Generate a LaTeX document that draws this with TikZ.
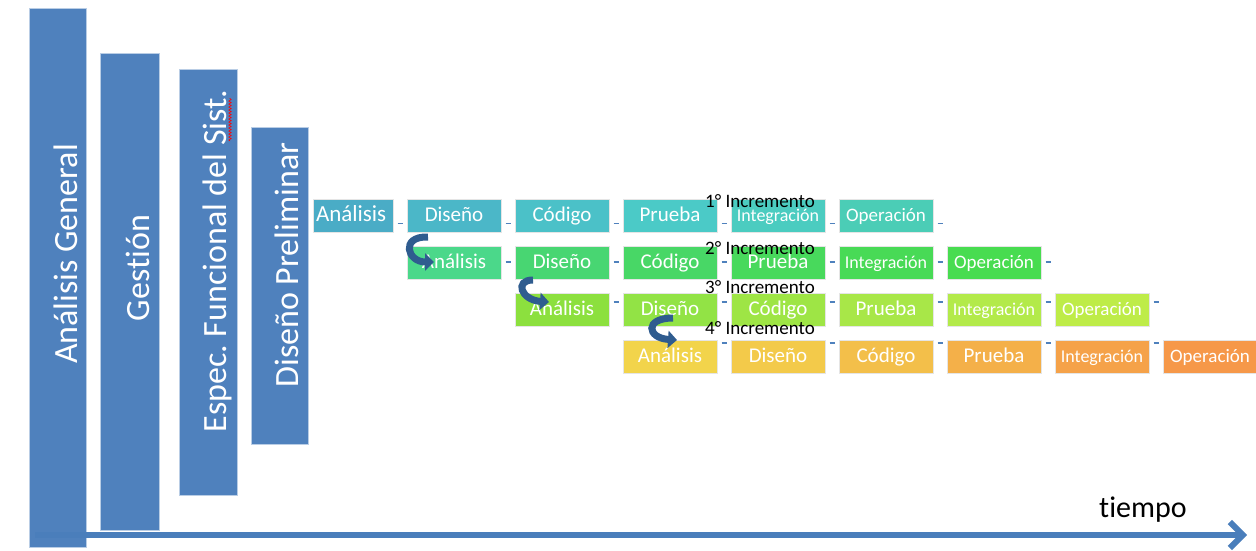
\documentclass[tikz,border=0pt]{standalone}
\usepackage{fontspec}
\setmainfont{Carlito}[Ligatures=NoCommon]
\usetikzlibrary{positioning,calc,arrows.meta,decorations.pathmorphing}

\definecolor{barblue}{HTML}{4F81BD}
\definecolor{lineblue}{HTML}{4A7EBB}
\definecolor{curveblue}{HTML}{2F5C8F}
% fila 1
\definecolor{ra1}{HTML}{4AACC6}\definecolor{rd1}{HTML}{4BB7C8}\definecolor{rc1}{HTML}{4BC1C8}
\definecolor{rp1}{HTML}{4BCAC7}\definecolor{ri1}{HTML}{4BCCC0}\definecolor{ro1}{HTML}{4BCDB6}
% fila 2
\definecolor{ra2}{HTML}{4BD88A}\definecolor{rd2}{HTML}{48D672}\definecolor{rc2}{HTML}{48D766}
\definecolor{rp2}{HTML}{48D95C}\definecolor{ri2}{HTML}{48DA56}\definecolor{ro2}{HTML}{48DC50}
% fila 3
\definecolor{ra3}{HTML}{8CE03E}\definecolor{rd3}{HTML}{92E345}\definecolor{rc3}{HTML}{9EE545}
\definecolor{rp3}{HTML}{A8E748}\definecolor{ri3}{HTML}{B3EA4A}\definecolor{ro3}{HTML}{BEEC48}
% fila 4
\definecolor{ra4}{HTML}{F2D44B}\definecolor{rd4}{HTML}{F3CA4A}\definecolor{rc4}{HTML}{F3BF4A}
\definecolor{rp4}{HTML}{F4B049}\definecolor{ri4}{HTML}{F5A249}\definecolor{ro4}{HTML}{F69849}

\begin{document}
\begin{tikzpicture}[x=1pt, y=-1pt,
    bar/.style = {rectangle, draw=white!60!barblue, fill=barblue, line width=0.8pt, outer sep=0pt, inner sep=0pt},
    bartext/.style = {rotate=90, anchor=base, inner sep=0pt, text=white, font=\fontsize{34}{34}\selectfont},
    phase/.style = {rectangle, draw=white!80!gray, line width=0.8pt, outer sep=0pt, inner sep=0pt, minimum width=94pt, minimum height=33pt, text height=15pt, text depth=4pt, text=white, font=\fontsize{21}{21}\selectfont},
    integ/.style = {font=\fontsize{18}{18}\selectfont},
    oper/.style = {font=\fontsize{19}{19}\selectfont},
    inc/.style = {inner sep=0pt, anchor=base west, font=\fontsize{19}{19}\selectfont},
    gapdash/.style = {draw=barblue, line width=1.8pt},
    back/.style = {draw=curveblue, line width=7pt, -{Triangle[length=9pt, width=17pt]}}]
  \useasboundingbox (0,0) rectangle (1256,550);

  % barras verticales
  \node[bar, minimum width=57pt, minimum height=539pt] (ag) at (57.5,277.5) {};
  \node[bar, minimum width=59pt, minimum height=477pt] (ges) at (129.5,291.5) {};
  \node[bar, minimum width=58pt, minimum height=426pt] (efs) at (208,282) {};
  \node[bar, minimum width=57pt, minimum height=317pt] (dp) at (279.5,285.5) {};
  \node[bartext] (ag-t) at (77,254) {Análisis General};
  \node[bartext] (ges-t) at (149,268) {Gestión};
  \node[bartext] (efs-t) at (226,261) {Espec.\ Funcional del Sist.};
  \node[bartext] (dp-t) at (298,265) {Diseño Preliminar};
  \draw[red, line width=0.6pt, decorate, decoration={snake, amplitude=1.2pt, segment length=3pt}] (230,141) -- (230,98);

  % eje del tiempo
  \coordinate (t0) at (35,535);
  \coordinate (t1) at (1247,535);
  \draw[lineblue, line width=6pt, -{Straight Barb[length=13pt, width=26pt]}] (t0) -- (t1);
  \node[inc, font=\fontsize{30}{30}\selectfont] (tiempo) at (1099,517) {tiempo};

  % 1er incremento
  \node[phase, fill=ra1, anchor=north west, minimum width=80pt, text width=74pt, align=left, font=\fontsize{23}{23}\selectfont] (a1) at (313,199) {Análisis};
  \node[phase, fill=rd1, right=14pt of a1] (d1) {Diseño};
  \node[phase, fill=rc1, right=14pt of d1] (c1) {Código};
  \node[phase, fill=rp1, right=14pt of c1] (p1) {Prueba};
  \node[phase, integ, fill=ri1, right=14pt of p1] (i1) {Integración};
  \node[phase, oper, fill=ro1, right=14pt of i1] (o1) {Operación};

  % 2do incremento
  \node[phase, fill=ra2, below=14pt of d1] (a2) {Análisis};
  \node[phase, fill=rd2, right=14pt of a2] (d2) {Diseño};
  \node[phase, fill=rc2, right=14pt of d2] (c2) {Código};
  \node[phase, fill=rp2, right=14pt of c2] (p2) {Prueba};
  \node[phase, integ, fill=ri2, right=14pt of p2] (i2) {Integración};
  \node[phase, oper, fill=ro2, right=14pt of i2] (o2) {Operación};

  % 3er incremento
  \node[phase, fill=ra3, below=14pt of d2] (a3) {Análisis};
  \node[phase, fill=rd3, right=14pt of a3] (d3) {Diseño};
  \node[phase, fill=rc3, right=14pt of d3] (c3) {Código};
  \node[phase, fill=rp3, right=14pt of c3] (p3) {Prueba};
  \node[phase, integ, fill=ri3, right=14pt of p3] (i3) {Integración};
  \node[phase, oper, fill=ro3, right=14pt of i3] (o3) {Operación};

  % 4to incremento
  \node[phase, fill=ra4, below=14pt of d3] (a4) {Análisis};
  \node[phase, fill=rd4, right=14pt of a4] (d4) {Diseño};
  \node[phase, fill=rc4, right=14pt of d4] (c4) {Código};
  \node[phase, fill=rp4, right=14pt of c4] (p4) {Prueba};
  \node[phase, integ, fill=ri4, right=14pt of p4] (i4) {Integración};
  \node[phase, oper, fill=ro4, right=14pt of i4] (o4) {Operación};

  % guiones entre fases
  \foreach \n in {a1,d1,c1,p1,i1,o1}
    \draw[gapdash] ($(\n.east)+(4.5,8)$) -- +(5,0);
  \foreach \n in {a2,d2,c2,p2,i2,o2}
    \draw[gapdash] ($(\n.east)+(4.5,-0.5)$) -- +(5,0);
  \foreach \n in {a3,d3,c3,p3,i3,o3}
    \draw[gapdash] ($(\n.east)+(4.5,-7.5)$) -- +(5,0);
  \foreach \n in {a4,d4,c4,p4,i4}
    \draw[gapdash] ($(\n.east)+(4.5,-13.5)$) -- +(5,0);

  % etiquetas
  \node[inc] (inc1) at ($(p1.north east)+(-12,8)$) {1° Incremento};
  \node[inc] (inc2) at ($(c2.north east)+(-12,8)$) {2° Incremento};
  \node[inc] (inc3) at ($(d3.north east)+(-12,0)$) {3° Incremento};
  \node[inc] (inc4) at ($(a4.north east)+(-12,-6)$) {4° Incremento};

  % flechas de retorno
  \draw[back] ($(d1.south west)+(21,5)$) .. controls +(-28,-1) and +(-27,0) .. ($(a2.north west)+(27,16)$);
  \draw[back] ($(d2.south west)+(18,1)$) .. controls +(-19,0) and +(-28,-2) .. ($(a3.north west)+(34,9)$);
  \draw[back] ($(d3.south west)+(50,-8)$) .. controls +(-29,0) and +(-30,-2) .. ($(a4.north west)+(54,0)$);
\end{tikzpicture}
\end{document}
